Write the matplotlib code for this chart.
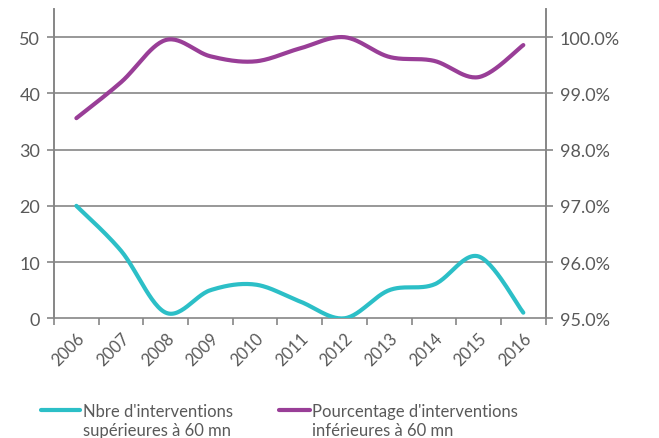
import numpy as np
from matplotlib import pyplot as plt
from matplotlib.lines import Line2D
from matplotlib.ticker import FuncFormatter

years = ["2006", "2007", "2008", "2009", "2010", "2011", "2012", "2013", "2014", "2015", "2016"]
nb_sup_60 = [20, 12, 1, 5, 6, 3, 0, 5, 6, 11, 1]
pct_inf_60 = [98.56, 99.2, 99.95, 99.66, 99.57, 99.8, 100.0, 99.65, 99.58, 99.29, 99.86]
legend_labels = ["Nbre d'interventions\nsupérieures à 60 mn",
                 "Pourcentage d'interventions\ninférieures à 60 mn"]

TEAL = "#2cbfc7"
PURPLE = "#993e97"
GRID = "#868686"
TXT = "#595959"

def smooth(y, n=30):
    # excel-like smoothed line (bezier with catmull-rom control points)
    y = np.asarray(y, dtype=float)
    x = np.arange(len(y), dtype=float)
    xs, ys = [], []
    t = np.linspace(0, 1, n)
    for i in range(len(y) - 1):
        x0, y0 = x[i], y[i]
        x3, y3 = x[i + 1], y[i + 1]
        xp, yp = (x[i - 1], y[i - 1]) if i > 0 else (x0, y0)
        xn, yn = (x[i + 2], y[i + 2]) if i + 2 < len(y) else (x3, y3)
        x1, y1 = x0 + (x3 - xp) / 6, y0 + (y3 - yp) / 6
        x2, y2 = x3 - (xn - x0) / 6, y3 - (yn - y0) / 6
        bx = (1-t)**3*x0 + 3*(1-t)**2*t*x1 + 3*(1-t)*t**2*x2 + t**3*x3
        by = (1-t)**3*y0 + 3*(1-t)**2*t*y1 + 3*(1-t)*t**2*y2 + t**3*y3
        xs.extend(bx)
        ys.extend(by)
    return np.array(xs), np.array(ys)

plt.rcParams["font.family"] = ["Lato", "DejaVu Sans"]

fig = plt.figure(figsize=(6.59, 4.39), dpi=100)
ax = fig.add_axes([0.082, 0.2727, 0.746, 0.7043])
ax2 = ax.twinx()

sx, sy = smooth(nb_sup_60)
ax.plot(sx, sy, color=TEAL, lw=3, solid_capstyle="round", zorder=3)
px, py = smooth(pct_inf_60)
ax2.plot(px, py, color=PURPLE, lw=3, solid_capstyle="round", zorder=3)

ax.set_xlim(-0.5, len(years) - 0.5)
ax.set_ylim(0, 55)
ax2.set_ylim(95, 100.5)
ax.set_yticks(range(0, 51, 10))
ax2.set_yticks(range(95, 101))
ax2.yaxis.set_major_formatter(FuncFormatter(lambda v, p: "%.1f%%" % v))

for v in range(0, 51, 10):
    ax.axhline(v, color=GRID, lw=1.2, zorder=1, clip_on=False)

ax.set_xticks(np.arange(len(years)))
ax.set_xticklabels(years, rotation=45, ha="right", rotation_mode="anchor")
ax.set_xticks(np.arange(-0.5, len(years)), minor=True)
ax.tick_params(axis="x", which="major", length=0, labelsize=12, labelcolor=TXT, pad=8)
ax.tick_params(axis="x", which="minor", length=5, width=1.2, color=GRID)
ax.tick_params(axis="y", length=5, width=1.2, color=GRID, labelsize=13, labelcolor=TXT, pad=5)
ax2.tick_params(axis="y", length=5, width=1.2, color=GRID, labelsize=13, labelcolor=TXT, pad=5)

for a in (ax, ax2):
    a.spines["top"].set_visible(False)
    a.spines["bottom"].set_visible(False)
    a.spines["left"].set_color(GRID)
    a.spines["right"].set_color(GRID)
    a.spines["left"].set_linewidth(1.2)
    a.spines["right"].set_linewidth(1.2)

# legend drawn by hand: handle level with the first text line
handle_y = 1 - 411 / 439
for (x0, x1, xt), col, lab in zip([(0.062, 0.121, 0.126), (0.424, 0.47, 0.473)],
                                  [TEAL, PURPLE], legend_labels):
    fig.add_artist(Line2D([x0, x1], [handle_y, handle_y], color=col, lw=3,
                          solid_capstyle="round", transform=fig.transFigure))
    fig.text(xt, handle_y + 0.015, lab, ha="left", va="top", fontsize=12,
             color=TXT, linespacing=1.2)

fig.savefig("out.png", dpi=100)
